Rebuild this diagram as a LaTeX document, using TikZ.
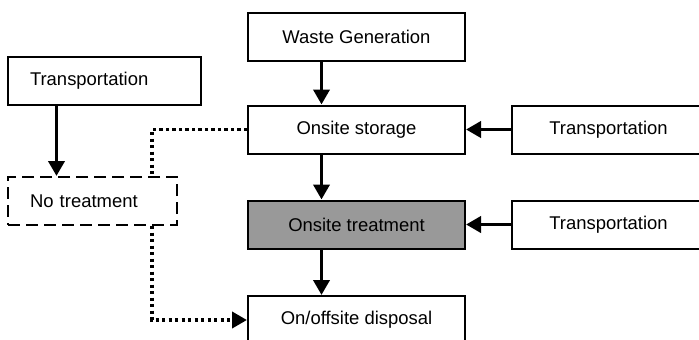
\documentclass[tikz,border=0pt]{standalone}
\usepackage{fontspec}
\setmainfont{Liberation Sans}
\usepackage{xcolor}
\definecolor{FlowGrey}{RGB}{153, 153, 153}
\usepackage{tikz}
\usetikzlibrary{arrows.meta, positioning, calc}

\begin{document}
\begin{tikzpicture}[
  font=\fontsize{10.5}{12}\selectfont,
  stagebox/.style={rectangle, draw=black, line width=0.04cm, fill=white,
    minimum width=4.34cm, minimum height=0.96cm, align=center},
  transbox/.style={rectangle, draw=black, line width=0.04cm, fill=white,
    minimum width=3.86cm, minimum height=0.96cm, align=center},
  sidebox/.style={rectangle, draw=black, line width=0.04cm, fill=white,
    minimum height=0.96cm, inner xsep=0.44cm, align=left},
  arr/.style={-{Triangle[width=0.32cm, length=0.3cm]}, line width=0.075cm},
  dotline/.style={line width=0.075cm, dash pattern=on 0.065cm off 0.065cm}
]
  \useasboundingbox (0,0) rectangle (13.98,-6.78);
  \clip (0,0) rectangle (13.98,-6.78);

  \node[stagebox] (gen)    at (7.13,-0.74) {Waste Generation};
  \node[stagebox] (store)  at (7.13,-2.59) {Onsite storage};
  \node[stagebox, fill=FlowGrey] (treat) at (7.13,-4.49) {Onsite treatment};
  \node[stagebox] (disp)   at (7.13,-6.40) {On/offsite disposal};

  \node[transbox] (rtrans1) at (12.17,-2.59) {Transportation};
  \node[transbox] (rtrans2) at (12.17,-4.49) {Transportation};

  \node[sidebox, text width=2.98cm] (ltrans) at (2.09,-1.62) {Transportation};
  \node[sidebox, text width=2.50cm, dash pattern=on 0.24cm off 0.12cm] (notreat) at (1.85,-4.02) {No treatment};

  \draw[arr] ([xshift=-0.7cm]gen.south)   -- ([xshift=-0.7cm]store.north);
  \draw[arr] ([xshift=-0.7cm]store.south) -- ([xshift=-0.7cm]treat.north);
  \draw[arr] ([xshift=-0.7cm]treat.south) -- ([xshift=-0.7cm]disp.north);

  \draw[arr] (rtrans1.west) -- (store.east);
  \draw[arr] (rtrans2.west) -- (treat.east);

  \draw[arr] ([xshift=-0.96cm]ltrans.south) -- ([xshift=-0.96cm]ltrans.south |- notreat.north);

  \draw[dotline] (store.west) -| ([xshift=1.19cm]notreat.north);
  \draw[dotline, arr, line width=0.075cm] ([xshift=1.19cm]notreat.south) |- (disp.west);
\end{tikzpicture}
\end{document}
